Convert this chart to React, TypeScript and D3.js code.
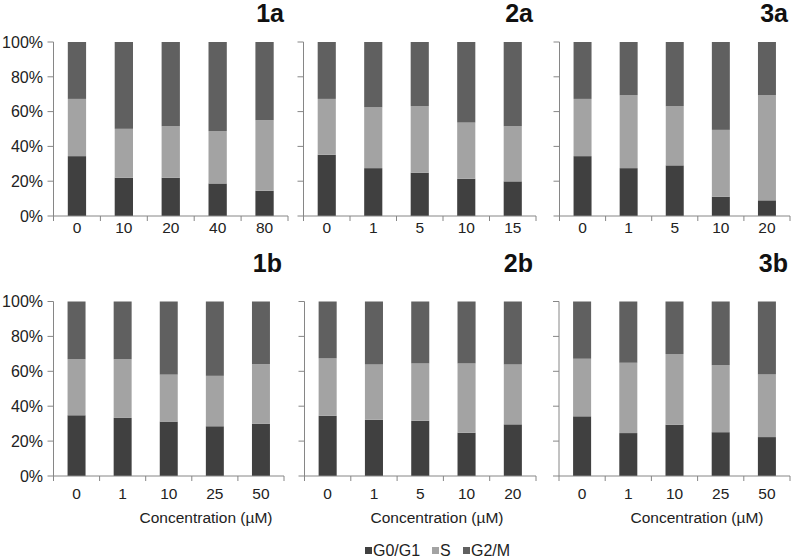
import React from "react";
import * as d3 from "d3";

const seriesNames = ["G0/G1", "S", "G2/M"];
const seriesColors = ["#404040", "#a3a3a3", "#606060"];
const yTickValues = [0, 20, 40, 60, 80, 100];

const cats1a = ["0", "10", "20", "40", "80"];
const g0_1a = [34.4, 22.0, 22.0, 18.7, 14.5];
const s_1a = [32.9, 28.1, 29.6, 30.1, 40.6];
const g2_1a = [32.7, 49.9, 48.4, 51.2, 44.9];

const cats2a = ["0", "1", "5", "10", "15"];
const g0_2a = [35.2, 27.5, 24.9, 21.4, 19.9];
const s_2a = [32.1, 35.0, 38.2, 32.3, 31.7];
const g2_2a = [32.7, 37.5, 36.9, 46.3, 48.4];

const cats3a = ["0", "1", "5", "10", "20"];
const g0_3a = [34.4, 27.5, 29.1, 11.1, 9.0];
const s_3a = [32.9, 41.9, 34.0, 38.4, 60.4];
const g2_3a = [32.7, 30.6, 36.9, 50.5, 30.6];

const cats1b = ["0", "1", "10", "25", "50"];
const g0_1b = [34.8, 33.3, 31.2, 28.5, 30.0];
const s_1b = [32.1, 33.6, 26.9, 28.9, 34.1];
const g2_1b = [33.1, 33.1, 41.9, 42.6, 35.9];

const cats2b = ["0", "1", "5", "10", "20"];
const g0_2b = [34.5, 32.2, 31.7, 24.8, 29.6];
const s_2b = [32.9, 31.7, 32.8, 39.7, 34.3];
const g2_2b = [32.6, 36.1, 35.5, 35.5, 36.1];

const cats3b = ["0", "1", "10", "25", "50"];
const g0_3b = [34.2, 24.6, 29.4, 25.1, 22.3];
const s_3b = [33.0, 40.3, 40.5, 38.4, 35.9];
const g2_3b = [32.8, 35.1, 30.1, 36.5, 41.8];

const xTitle = "Concentration (µM)";

type PanelSpec = {
  title: string;
  cats: string[];
  g0: number[];
  s: number[];
  g2: number[];
  x0: number;
  x1: number;
  y0: number;
  y1: number;
  showY: boolean;
  titleX: number;
  titleY: number;
  labelDy: number;
  xTitleX?: number;
};

const FONT = "'Liberation Sans', Arial, sans-serif";
const AXIS = "#868686";

const panels: PanelSpec[] = [
  { title: "1a", cats: cats1a, g0: g0_1a, s: s_1a, g2: g2_1a, x0: 53.5, x1: 288, y0: 42, y1: 216, showY: true, titleX: 284, titleY: 22, labelDy: 17 },
  { title: "2a", cats: cats2a, g0: g0_2a, s: s_2a, g2: g2_2a, x0: 303.5, x1: 536, y0: 42, y1: 216, showY: false, titleX: 533, titleY: 22, labelDy: 17 },
  { title: "3a", cats: cats3a, g0: g0_3a, s: s_3a, g2: g2_3a, x0: 559.5, x1: 790, y0: 42, y1: 216, showY: false, titleX: 788, titleY: 22, labelDy: 17 },
  { title: "1b", cats: cats1b, g0: g0_1b, s: s_1b, g2: g2_1b, x0: 53.5, x1: 284, y0: 301.5, y1: 476, showY: true, titleX: 282, titleY: 272, labelDy: 23, xTitleX: 206 },
  { title: "2b", cats: cats2b, g0: g0_2b, s: s_2b, g2: g2_2b, x0: 304.5, x1: 536, y0: 301.5, y1: 476, showY: false, titleX: 533, titleY: 272, labelDy: 23, xTitleX: 437 },
  { title: "3b", cats: cats3b, g0: g0_3b, s: s_3b, g2: g2_3b, x0: 559, x1: 790, y0: 301.5, y1: 476, showY: false, titleX: 788, titleY: 272, labelDy: 23, xTitleX: 697 },
];

function Panel({ p }: { p: PanelSpec }) {
  const pad = 0.61;
  const x = d3.scaleBand<string>().domain(p.cats).range([p.x0, p.x1]).paddingInner(pad).paddingOuter(pad / 2);
  const y = d3.scaleLinear().domain([0, 100]).range([p.y1, p.y0]);
  const rows = p.cats.map((c, i) => ({ cat: c, "G0/G1": p.g0[i], S: p.s[i], "G2/M": p.g2[i] }));
  const stacked = d3.stack<any>().keys(seriesNames)(rows);
  const step = x.step();
  const boundaries = d3.range(p.cats.length + 1).map((i) => p.x0 + i * step);
  return (
    <g>
      {stacked.map((layer, li) => (
        <g key={li} fill={seriesColors[li]}>
          {layer.map((d, i) => (
            <rect key={i} x={x(p.cats[i])} width={x.bandwidth()} y={y(d[1])} height={y(d[0]) - y(d[1])} />
          ))}
        </g>
      ))}
      <line x1={p.x0} x2={p.x0} y1={y(100)} y2={y(0)} stroke={AXIS} />
      {yTickValues.map((t) => (
        <line key={t} x1={p.x0 - 6} x2={p.x0} y1={y(t)} y2={y(t)} stroke={AXIS} />
      ))}
      <line x1={p.x0} x2={boundaries[boundaries.length - 1]} y1={y(0)} y2={y(0)} stroke={AXIS} />
      {boundaries.map((b, i) => (
        <line key={i} x1={b} x2={b} y1={y(0)} y2={y(0) + 5} stroke={AXIS} />
      ))}
      {p.showY &&
        yTickValues.map((t) => (
          <text key={t} x={43} y={y(t)} dy="0.36em" textAnchor="end" fontSize={16} fontFamily={FONT} fill="#222">
            {t + "%"}
          </text>
        ))}
      {p.cats.map((c) => (
        <text key={c} x={(x(c) as number) + x.bandwidth() / 2} y={y(0) + p.labelDy} textAnchor="middle" fontSize={15.5} fontFamily={FONT} fill="#222">
          {c}
        </text>
      ))}
      <text x={p.titleX} y={p.titleY} textAnchor="end" fontSize={25} fontWeight="bold" fontFamily={FONT} fill="#111">
        {p.title}
      </text>
      {p.xTitleX !== undefined && (
        <text x={p.xTitleX} y={y(0) + 47} textAnchor="middle" fontSize={15.5} fontFamily={FONT} fill="#222">
          {xTitle}
        </text>
      )}
    </g>
  );
}

export default function App() {
  const legendX = [365, 432, 463];
  return (
    <svg width={792} height={559} style={{ position: "absolute", left: 0, top: 0, background: "#fff" }}>
      <rect width={792} height={559} fill="#fff" />
      {panels.map((p) => (
        <Panel key={p.title} p={p} />
      ))}
      {seriesNames.map((n, i) => (
        <g key={n}>
          <rect x={legendX[i]} y={547} width={7} height={7} fill={seriesColors[i]} />
          <text x={legendX[i] + 8} y={556} fontSize={16} fontFamily={FONT} fill="#222">
            {n}
          </text>
        </g>
      ))}
    </svg>
  );
}
